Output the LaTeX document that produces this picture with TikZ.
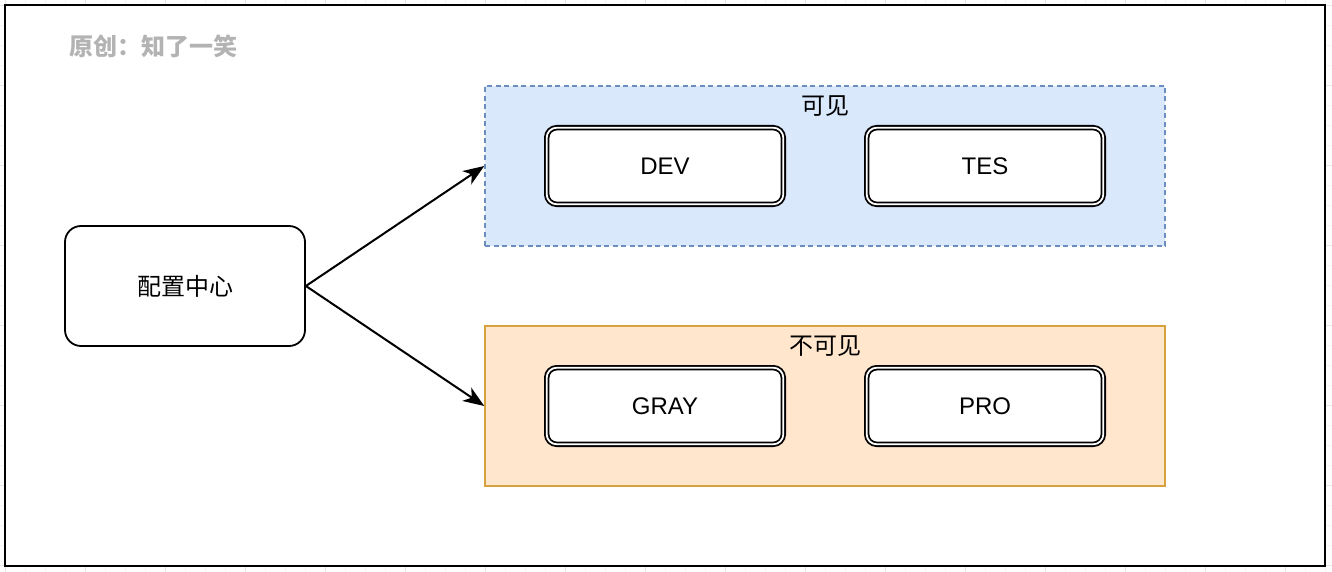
\documentclass[tikz,border=0pt]{standalone}
\usepackage{fontspec}
\setmainfont{Liberation Sans}
\newfontfamily\cjk{Noto Sans CJK SC}
\usetikzlibrary{arrows.meta}
\definecolor{bluefill}{HTML}{DAE8FC}
\definecolor{bluedraw}{HTML}{6C8EBF}
\definecolor{orangefill}{HTML}{FFE6CC}
\definecolor{orangedraw}{HTML}{D6A23E}
\definecolor{titlegray}{HTML}{B3B3B3}
\definecolor{gridmajor}{HTML}{E6E6E6}
\definecolor{gridminor}{HTML}{F5F5F5}
\tikzset{
  txt/.style={font=\fontsize{24}{28}\selectfont},
  cjktxt/.style={font=\cjk\fontsize{24}{28}\selectfont},
  container/.style={minimum width=680pt, minimum height=160pt, inner sep=0pt, line width=1.5pt},
  envbox/.style={draw=black, fill=white, double=white, double distance=1.8pt, line width=1.8pt,
    rounded corners=10pt, minimum width=236.6pt, minimum height=76.6pt, inner sep=0pt,
    font=\fontsize{24}{28}\selectfont},
  centerbox/.style={draw=black, fill=white, line width=1.8pt, rounded corners=16pt,
    minimum width=240pt, minimum height=120pt, inner sep=0pt, font=\cjk\fontsize{24}{28}\selectfont},
  link/.style={line width=2pt, -{Stealth[length=21pt,width=16pt,inset=6pt]}}
}
\begin{document}
\begin{tikzpicture}[x=1pt,y=-1pt]
\useasboundingbox (0,0) rectangle (1332,572);
% faint background grid
\foreach \i in {25,45,65,105,125,145,185,205,225,265,285,305,345,365,385,425,445,465,505,525,545,585,605,625,665,685,705,745,765,785,825,845,865,905,925,945,985,1005,1025,1065,1085,1105,1145,1165,1185,1225,1245,1265,1305,1325}
  \draw[gridminor, line width=0.8pt] (\i,0) -- (\i,572);
\foreach \j in {25,45,65,105,125,145,185,205,225,265,285,305,345,365,385,425,445,465,505,525,545}
  \draw[gridminor, line width=0.8pt] (0,\j) -- (1332,\j);
\foreach \i in {5,85,...,1325}
  \draw[gridmajor, line width=0.8pt] (\i,0) -- (\i,572);
\foreach \j in {5,85,...,565}
  \draw[gridmajor, line width=0.8pt] (0,\j) -- (1332,\j);
% page frame
\node[draw=black, fill=white, line width=2pt, minimum width=1320pt, minimum height=561pt, inner sep=0pt] (frame) at (665,285.5) {};
% title
\node[font=\cjk\bfseries\fontsize{24}{28}\selectfont, text=titlegray, anchor=west, inner sep=0pt] (title) at (69,46) {原创：知了一笑};
% containers
\node[container, draw=bluedraw, fill=bluefill, dash pattern=on 5pt off 3.5pt] (visible) at (825,166) {};
\node[cjktxt, inner sep=0pt] (visiblelbl) at (825,106) {可见};
\node[container, draw=orangedraw, fill=orangefill] (invisible) at (825,406) {};
\node[cjktxt, inner sep=0pt] (invisiblelbl) at (825,346) {不可见};
% env boxes
\node[envbox] (dev) at (665,166) {DEV};
\node[envbox] (tes) at (985,166) {TES};
\node[envbox] (gray) at (665,406) {GRAY};
\node[envbox] (pro) at (985,406) {PRO};
% config center
\node[centerbox] (config) at (185,286) {配置中心};
% arrows
\draw[link] (config.east) -- (visible.west);
\draw[link] (config.east) -- (invisible.west);
\end{tikzpicture}
\end{document}
